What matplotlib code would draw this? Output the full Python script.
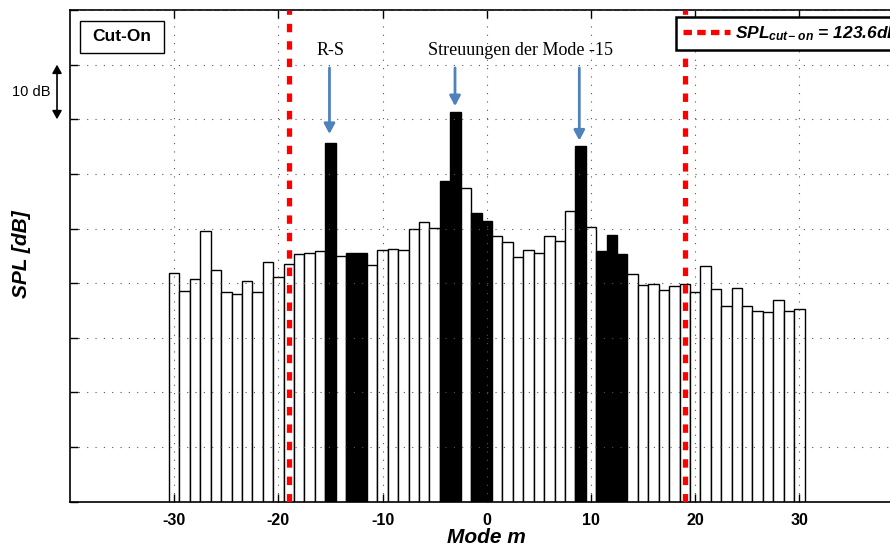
import matplotlib
matplotlib.use("Agg")
import matplotlib.pyplot as plt
from matplotlib.lines import Line2D
from matplotlib.patches import Rectangle

# ---- data -------------------------------------------------------------
modes = list(range(-30, 31))
spl_db = [101.8, 98.5, 100.8, 109.5, 102.5, 98.3, 98.1, 100.4, 98.4, 103.8,
          101.1, 103.6, 105.3, 105.5, 105.8, 125.7, 105.0, 105.5, 105.5, 103.4,
          106.1, 106.3, 106.1, 109.9, 111.2, 110.1, 118.7, 131.3, 117.4, 112.8,
          111.3, 108.6, 107.5, 104.7, 106.0, 105.5, 108.6, 107.8, 113.3, 125.2,
          110.2, 105.9, 108.9, 105.4, 101.6, 99.6, 99.8, 98.7, 99.5, 99.8,
          98.3, 103.1, 99.0, 95.9, 99.2, 95.8, 94.9, 94.7, 96.9, 94.9, 95.2]
highlighted_modes = [-15, -13, -12, -4, -3, -1, 0, 9, 11, 12, 13]
cut_on_modes = [-19, 19]
cut_on_level = 123.6

arrow_modes = [-15.1, -3.05, 8.88]
arrow_tips = [127.3, 132.4, 126.1]
arrow_tail = 139.4

x_ticks = [-30, -20, -10, 0, 10, 20, 30]
y_lim = (60, 150)

# ---- style ------------------------------------------------------------
plt.rcParams["font.family"] = ["Liberation Sans", "DejaVu Sans"]
plt.rcParams["mathtext.fontset"] = "custom"
plt.rcParams["mathtext.it"] = "Liberation Sans:bold:italic"
plt.rcParams["mathtext.rm"] = "Liberation Sans:bold:italic"
plt.rcParams["mathtext.bf"] = "Liberation Sans:bold"

fig = plt.figure(figsize=(8.9, 5.47), dpi=100)
ax = fig.add_axes([0.0787, 0.0828, 0.9365, 0.8989])

face = ["black" if m in highlighted_modes else "white" for m in modes]
ax.bar(modes, spl_db, width=1.0, color=face, edgecolor="black",
       linewidth=1.0, zorder=2)

ax.set_xlim(-40, 40)
ax.set_ylim(*y_lim)
ax.set_xticks(x_ticks)
ax.set_xticklabels([str(t) for t in x_ticks], fontweight="bold", fontsize=11.5)
ax.set_yticks(range(y_lim[0], y_lim[1] + 1, 10))
ax.set_yticklabels([])
ax.tick_params(axis="both", direction="in", length=5.5, width=1.0,
               top=True, right=True, pad=8)

for s in ax.spines.values():
    s.set_linewidth(1.2)

ax.grid(True, color="#555555", linestyle=(0, (1, 6.5)), linewidth=0.8, zorder=3)
ax.set_axisbelow(False)

# cut-on limits
for m in cut_on_modes:
    ax.axvline(m, color="#ff0000", linewidth=3.8,
               linestyle=(0, (1.6, 1.7)), dash_capstyle="butt", zorder=4)

# labels
ax.set_xlabel("Mode m", fontsize=15, fontweight="bold", style="italic",
              va="center")
ax.xaxis.set_label_coords(0.5, -0.0718)
ax.set_ylabel("SPL [dB]", fontsize=15, fontweight="bold", style="italic",
              va="center")
ax.yaxis.set_label_coords(-0.0588, 0.503)

# "Cut-On" tag
ax.add_patch(Rectangle((0.0124, 0.9119), 0.1001, 0.0663, transform=ax.transAxes,
                       facecolor="white", edgecolor="black", linewidth=1.0,
                       zorder=6, clip_on=False))
ax.text(0.0624, 0.9452, "Cut-On", transform=ax.transAxes, ha="center",
        va="center", fontsize=12.5, fontweight="bold", zorder=7)

# 10 dB scale arrow
ax.annotate("", xy=(-41.25, 140), xytext=(-41.25, 130),
            arrowprops=dict(arrowstyle="<|-|>,head_length=0.5,head_width=0.28",
                            color="black", lw=1.2, shrinkA=0, shrinkB=0),
            annotation_clip=False)
ax.text(-41.9, 135, "10 dB", ha="right", va="center", fontsize=10.5,
        clip_on=False)

# annotations
serif = ["Liberation Serif", "DejaVu Serif"]
ax.text(-14.96, 141.85, "R-S", ha="center", va="baseline", fontsize=13,
        family=serif)
ax.text(3.19, 141.85, "Streuungen der Mode -15", ha="center", va="baseline",
        fontsize=13, family=serif)
for xm, tip in zip(arrow_modes, arrow_tips):
    ax.annotate("", xy=(xm, tip), xytext=(xm, arrow_tail),
                arrowprops=dict(arrowstyle="-|>,head_length=0.6,head_width=0.32",
                                color="#4f81bd", lw=2.0, shrinkA=0, shrinkB=0,
                                mutation_scale=10),
                zorder=5)

# legend
handle = Line2D([], [], color="#ff0000", linewidth=3.8,
                linestyle=(0, (1.6, 1.0)), dash_capstyle="butt")
leg = ax.legend([handle], [r"$SPL_{cut{-}\ on}$ = %.1fdB" % cut_on_level],
                loc="upper left", bbox_to_anchor=(0.7596, 0.9695),
                bbox_transform=fig.transFigure, borderaxespad=0,
                frameon=True, fancybox=False,
                framealpha=1.0, edgecolor="black", handlelength=2.7,
                handletextpad=0.3, borderpad=0.42,
                prop=dict(family="Liberation Sans", weight="bold",
                          style="italic", size=12.5))
leg.get_frame().set_linewidth(1.8)
leg.set_zorder(10)

fig.savefig("out.png", dpi=100)
